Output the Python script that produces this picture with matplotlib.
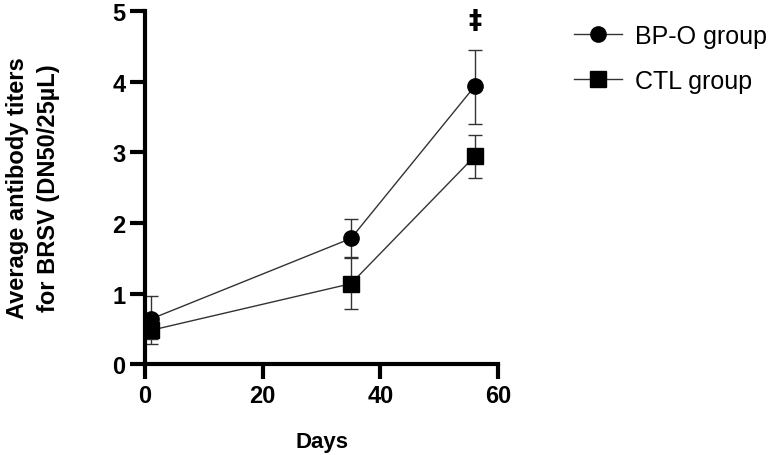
import matplotlib.pyplot as plt
from matplotlib.lines import Line2D

plt.rcParams['font.family'] = ['Liberation Sans', 'DejaVu Sans']

days = [1, 35, 56]
bpo_mean = [0.64, 1.78, 3.93]
bpo_lo = [0.36, 1.52, 3.40]
bpo_hi = [0.96, 2.05, 4.45]
ctl_mean = [0.48, 1.14, 2.94]
ctl_lo = [0.28, 0.78, 2.63]
ctl_hi = [0.70, 1.50, 3.25]

fig = plt.figure(figsize=(7.77, 4.56), dpi=100)
ax = fig.add_axes([0.1866, 0.199, 0.4544, 0.775])

def err(mean, lo, hi):
    return [[m - l for m, l in zip(mean, lo)], [h - m for m, h in zip(mean, hi)]]

ax.errorbar(days, bpo_mean, yerr=err(bpo_mean, bpo_lo, bpo_hi), color="#333333",
            lw=1, marker="o", ms=11, mfc="black", mec="black",
            ecolor="#333333", elinewidth=1, capsize=5, capthick=1)
ax.errorbar(days, ctl_mean, yerr=err(ctl_mean, ctl_lo, ctl_hi), color="#333333",
            lw=1, marker="s", ms=11, mfc="black", mec="black",
            ecolor="#333333", elinewidth=1, capsize=5, capthick=1)

ax.text(56, 4.86, "‡", ha="center", va="center", fontsize=19, fontweight="bold",
        family=['DejaVu Sans'])

ax.set_xlim(0, 60)
ax.set_ylim(0, 5)
ax.set_xticks([0, 20, 40, 60])
ax.set_yticks([0, 1, 2, 3, 4, 5])
for s in ["top", "right"]:
    ax.spines[s].set_visible(False)
for s in ["left", "bottom"]:
    ax.spines[s].set_linewidth(3)
ax.tick_params(width=3, length=11, labelsize=17, direction="out", pad=3)
for lab in ax.get_xticklabels() + ax.get_yticklabels():
    lab.set_fontweight("bold")

ax.set_xlabel("Days", fontsize=16, fontweight="bold")
ax.xaxis.set_label_coords(0.5, -0.19)
ax.set_ylabel("Average antibody titers\nfor BRSV (DN50/25µL)", fontsize=17,
              fontweight="bold", linespacing=1.45)
ax.yaxis.set_label_coords(-0.24, 0.5)

handles = [
    Line2D([], [], color="#333333", lw=1, marker="o", ms=11, mfc="black", mec="black"),
    Line2D([], [], color="#333333", lw=1, marker="s", ms=11, mfc="black", mec="black"),
]
fig.legend(handles, ["BP-O group", "CTL group"], loc="upper left",
           bbox_to_anchor=(0.71, 0.995), frameon=False, fontsize=18,
           handlelength=1.9, labelspacing=0.85, handletextpad=0.55)

fig.savefig("out.png", dpi=100)
